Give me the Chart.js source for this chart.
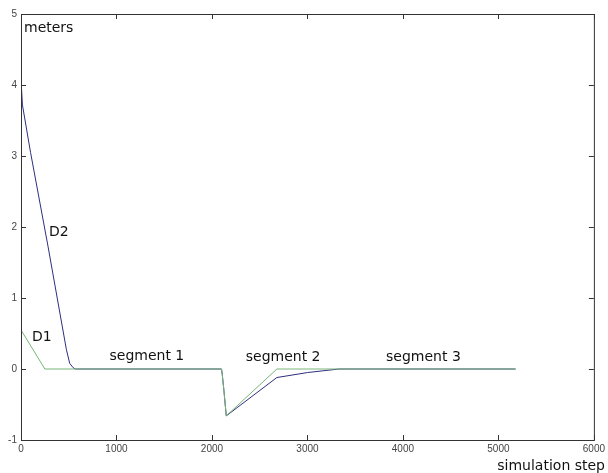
<!DOCTYPE html>
<html>
<head>
<meta charset="utf-8">
<script src="https://cdn.jsdelivr.net/npm/chart.js@4"></script>
<style>
  body { margin: 0; background: #fff; }
  canvas { display: block; }
</style>
</head>
<body>
<canvas id="myChart" width="608" height="473"></canvas>
<script>
// D1 (green) and D2 (blue) distance vs simulation step
const d1Steps  = [0, 250, 2100, 2108, 2125, 2150, 2680, 5180];
const d1Values = [0.55, 0, 0, -0.08, -0.3, -0.66, 0, 0];

const d2Steps  = [0, 15, 100, 284, 476, 510, 545, 570, 2100, 2108, 2125, 2150, 2680, 3000, 3330, 5180];
const d2Values = [4.08, 3.72, 3.05, 1.72, 0.27, 0.08, 0.02, 0, 0, -0.08, -0.3, -0.66, -0.12, -0.05, 0, 0];

const xTicks = [0, 1000, 2000, 3000, 4000, 5000, 6000];
const yTicks = [-1, 0, 1, 2, 3, 4, 5];

// text labels placed in data units
const labelTexts = ["D2", "D1", "segment 1", "segment 2", "segment 3"];
const labelSteps = [292, 115, 927, 2354, 3823];
const labelValues = [1.92, 0.44, 0.18, 0.17, 0.17];

const toPoints = (xs, ys) => xs.map((x, i) => ({x: x, y: ys[i]}));

const boxPlugin = {
  id: "box",
  afterDraw(chart) {
    const ctx = chart.ctx;
    const a = chart.chartArea;
    const xs = chart.scales.x;
    const ys = chart.scales.y;
    ctx.save();
    ctx.strokeStyle = "#333";
    ctx.lineWidth = 1;
    ctx.strokeRect(a.left + 0.5, a.top + 0.5, a.right - a.left, a.bottom - a.top);
    ctx.beginPath();
    xTicks.forEach(t => {
      const px = Math.round(xs.getPixelForValue(t)) + 0.5;
      ctx.moveTo(px, a.bottom); ctx.lineTo(px, a.bottom - 5);
      ctx.moveTo(px, a.top); ctx.lineTo(px, a.top + 5);
    });
    yTicks.forEach(t => {
      const py = Math.round(ys.getPixelForValue(t)) + 0.5;
      ctx.moveTo(a.left, py); ctx.lineTo(a.left + 5, py);
      ctx.moveTo(a.right, py); ctx.lineTo(a.right - 5, py);
    });
    ctx.stroke();

    ctx.fillStyle = "#111";
    ctx.font = "14px 'DejaVu Sans'";
    ctx.textBaseline = "middle";
    ctx.textAlign = "left";
    for (let i = 0; i < labelTexts.length; i++) {
      ctx.fillText(labelTexts[i], xs.getPixelForValue(labelSteps[i]), ys.getPixelForValue(labelValues[i]));
    }
    ctx.fillText("meters", a.left + 3, a.top + 14);
    ctx.textAlign = "right";
    ctx.fillText("simulation step", 605, 466);
    ctx.restore();
  }
};

new Chart("myChart", {
  type: "line",
  data: {
    datasets: [
      {
        label: "D1",
        data: toPoints(d1Steps, d1Values),
        borderColor: "#78b478",
        borderWidth: 1,
        pointRadius: 0,
        tension: 0
      },
      {
        label: "D2",
        data: toPoints(d2Steps, d2Values),
        borderColor: "#2e2e80",
        borderWidth: 1,
        pointRadius: 0,
        tension: 0
      }
    ]
  },
  options: {
    responsive: false,
    animation: false,
    layout: { padding: { left: 0, top: 14, right: 11, bottom: 0 } },
    plugins: { legend: { display: false }, tooltip: { enabled: false } },
    scales: {
      x: {
        type: "linear",
        min: 0,
        max: 6000,
        afterFit: s => { s.height = 33; },
        afterBuildTicks: s => { s.ticks = xTicks.map(v => ({value: v})); },
        grid: { display: false, drawTicks: false },
        border: { display: false },
        ticks: { padding: 3, color: "#444", font: { family: "Liberation Sans", size: 10 }, maxRotation: 0,
                 callback: v => String(v) }
      },
      y: {
        min: -1,
        max: 5,
        afterFit: s => { s.width = 21; },
        afterBuildTicks: s => { s.ticks = yTicks.map(v => ({value: v})); },
        grid: { display: false, drawTicks: false },
        border: { display: false },
        ticks: { padding: 4, color: "#444", font: { family: "Liberation Sans", size: 10 },
                 callback: v => String(v) }
      }
    }
  },
  plugins: [boxPlugin]
});
</script>
</body>
</html>
